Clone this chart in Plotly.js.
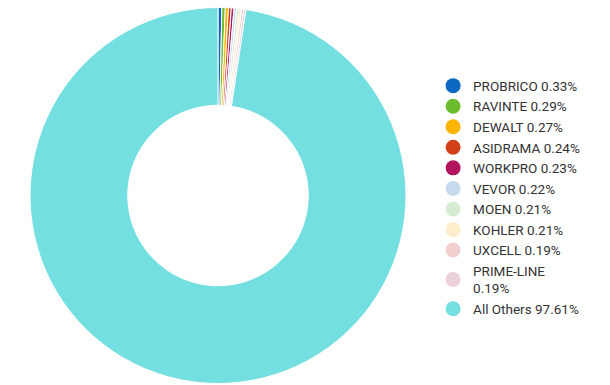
<!DOCTYPE html>
<html>
<head>
<meta charset="utf-8">
<script src="https://cdn.plot.ly/plotly-3.0.1.min.js"></script>
<style>html,body{margin:0;padding:0;background:#fff;}#chart{width:610px;height:385px;}</style>
</head>
<body>
<div id="chart"></div>
<script>
const labels = ['PROBRICO','RAVINTE','DEWALT','ASIDRAMA','WORKPRO','VEVOR','MOEN','KOHLER','UXCELL','PRIME-LINE','All Others'];
const shares = [0.33,0.29,0.27,0.24,0.23,0.22,0.21,0.21,0.19,0.19,97.61];
const legendTexts = ['PROBRICO 0.33%','RAVINTE 0.29%','DEWALT 0.27%','ASIDRAMA 0.24%','WORKPRO 0.23%','VEVOR 0.22%','MOEN 0.21%','KOHLER 0.21%','UXCELL 0.19%','PRIME-LINE<br>0.19%','All Others 97.61%'];
const colors = ['#0b67c0','#6cbd2c','#fbb400','#d2401a','#b0155e','#c6dcee','#d6ebd2','#fdedca','#f3d0d0','#ecd0dc','#74dfe0'];

const traces = [{
  type: 'pie',
  labels: labels,
  values: shares,
  hole: 0.48,
  sort: false,
  direction: 'clockwise',
  rotation: 0,
  textinfo: 'none',
  showlegend: false,
  marker: {colors: colors, line: {color: '#ffffff', width: 1}},
  domain: {x: [0, 376/580], y: [0, 1]}
}];
labels.forEach((l, i) => {
  traces.push({
    type: 'scatter', mode: 'markers', x: [null], y: [null],
    name: legendTexts[i],
    marker: {symbol: 'circle', size: 15, color: colors[i]},
    showlegend: true, hoverinfo: 'skip'
  });
});

const layout = {
  width: 610, height: 385,
  margin: {l: 30, r: 0, t: 6, b: 0},
  paper_bgcolor: '#ffffff', plot_bgcolor: 'rgba(0,0,0,0)',
  font: {family: 'Roboto, sans-serif', size: 13.5, color: '#333333'},
  xaxis: {visible: false, domain: [0.7, 1]},
  yaxis: {visible: false},
  showlegend: true,
  legend: {x: 0.695, xanchor: 'left', y: 0.495, yanchor: 'middle', bgcolor: 'rgba(0,0,0,0)',
           font: {family: 'Roboto, sans-serif', size: 13.5, color: '#333333'}, itemclick: false}
};
Plotly.newPlot('chart', traces, layout, {displayModeBar: false, staticPlot: true});
</script>
</body>
</html>
